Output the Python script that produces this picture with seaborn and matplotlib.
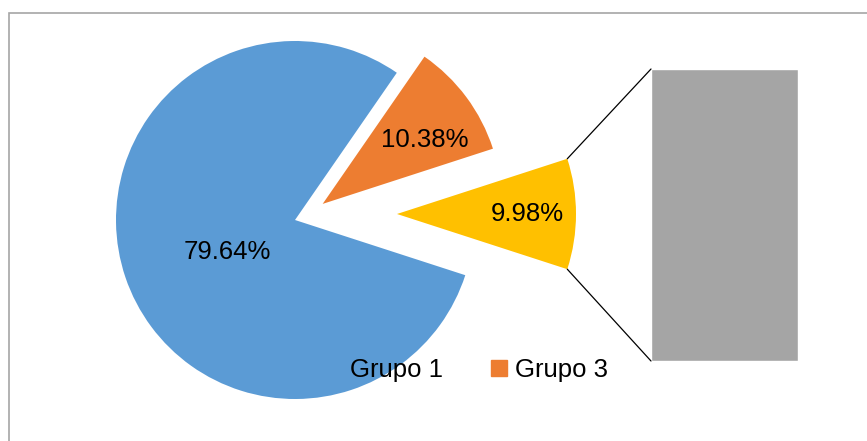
import matplotlib.pyplot as plt
import numpy as np
import seaborn as sns
from matplotlib.patches import ConnectionPatch, Patch, Rectangle

# data
groups = ["Grupo 1", "Grupo 2", "Grupo 3"]
shares = [79.64, 10.38, 9.98]
bar_share = [9.98]
legend_labels = ["Grupo 1", "Grupo 3"]

colors = ["#5B9BD5", "#ED7D31", "#FFC000"]
bar_color = "#A5A5A5"

sns.set_theme(style="white")
plt.rcParams["font.family"] = ["Liberation Sans", "DejaVu Sans"]
plt.rcParams["text.color"] = "black"

W, H = 867, 441
fig = plt.figure(figsize=(W / 100, H / 100), dpi=100)
ax = fig.add_axes([0, 0, 1, 1])

radius = 179
wedges, texts, autotexts = ax.pie(
    shares,
    colors=colors,
    startangle=-17.96,
    counterclock=False,
    explode=[0, 32, 102],
    center=(295, 221),
    radius=radius,
    autopct="%.2f%%",
    wedgeprops=dict(linewidth=0),
    textprops=dict(fontsize=18.5, color="black"),
)

# small nudges so the exploded slices sit where the original puts them
cx, cy = wedges[1].center
wedges[1].set_center((cx + 2, cy - 3))
cx, cy = wedges[2].center
wedges[2].set_center((cx, cy + 6))

# label placement (fraction of radius, angle) from each wedge's own centre
label_polar = [(0.42, 205), (0.67, 32), (0.73, 0)]
for w, t, (frac, ang) in zip(wedges, autotexts, label_polar):
    cx, cy = w.center
    a = np.deg2rad(ang)
    t.set_position((cx + frac * radius * np.cos(a), cy + frac * radius * np.sin(a)))
    t.set_ha("center")
    t.set_va("center")

ax.set_xlim(0, W)
ax.set_ylim(0, H)
ax.set_aspect("equal")
ax.axis("off")

# bar of pie
bax = fig.add_axes([651 / W, (H - 361) / H, 147 / W, 292 / H])
sns.barplot(x=[0], y=bar_share, color=bar_color, width=1, saturation=1, ax=bax)
bax.set_xlim(-0.5, 0.5)
bax.set_ylim(0, bar_share[0])
bax.axis("off")

# connector lines from the yellow wedge to the bar
yw = wedges[2]
cx, cy = yw.center
for theta, corner in [(yw.theta2, (0, 1)), (yw.theta1, (0, 0))]:
    a = np.deg2rad(theta)
    p = (cx + yw.r * np.cos(a), cy + yw.r * np.sin(a))
    con = ConnectionPatch(xyA=p, coordsA=ax.transData, xyB=corner,
                          coordsB=bax.transAxes, color="black", lw=0.9)
    fig.add_artist(con)

# legend
handles = [Patch(color=colors[0]), Patch(color=colors[1])]
leg = fig.legend(handles, legend_labels, loc="center",
                 bbox_to_anchor=(467 / W, 1 - 370 / H), ncol=2, frameon=False,
                 fontsize=18.5, handlelength=0.62, handleheight=0.62,
                 handletextpad=0.31, columnspacing=1.87)
for txt in leg.get_texts():
    txt.set_color("black")

# chart area border (only top and left visible)
fig.add_artist(Rectangle((8.5 / W, -0.1), 2, 1.1 - 13.5 / H,
                         transform=fig.transFigure, fill=False,
                         edgecolor="#A6A6A6", lw=1.2))

fig.savefig("out.png", dpi=100)
